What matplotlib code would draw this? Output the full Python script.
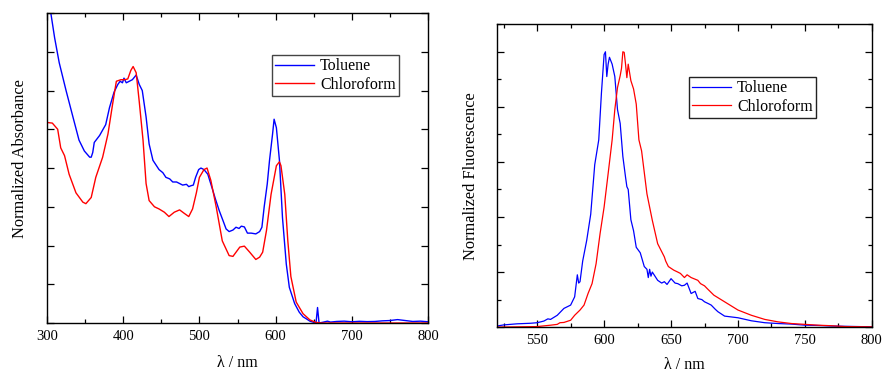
import matplotlib
matplotlib.use("Agg")
import matplotlib.pyplot as plt
from matplotlib.ticker import MultipleLocator, NullFormatter

plt.rcParams['font.family'] = ['Liberation Serif', 'DejaVu Serif']

# ---- Absorbance spectra ----
abs_tol_wl = [300, 305, 310, 316, 325, 334, 342, 349, 356, 358, 360, 362, 369, 377, 382, 388,
              393, 396, 399, 401, 404, 408, 412, 417, 421, 425, 430, 434, 439, 443, 447, 452,
              456, 461, 465, 470, 474, 478, 483, 486, 489, 492, 495, 499, 502, 506, 511, 517,
              521, 526, 531, 535, 539, 544, 548, 552, 555, 559, 563, 568, 574, 579, 582, 585,
              589, 592, 596, 598, 601, 605, 609, 614, 618, 625, 631, 636, 640, 645, 649, 653,
              655, 657, 662, 668, 672, 680, 690, 700, 710, 720, 730, 740, 750, 760, 770, 780,
              790, 800]
abs_tol = [2.10, 2.00, 1.84, 1.68, 1.50, 1.33, 1.18, 1.11, 1.07, 1.07, 1.10, 1.165, 1.21, 1.28, 1.39, 1.49,
           1.54, 1.56, 1.55, 1.58, 1.55, 1.56, 1.57, 1.60, 1.54, 1.50, 1.33, 1.155, 1.05, 1.02, 0.99, 0.97,
           0.94, 0.93, 0.91, 0.91, 0.90, 0.89, 0.895, 0.88, 0.886, 0.89, 0.94, 0.99, 1.00, 0.99, 0.96, 0.865,
           0.80, 0.725, 0.66, 0.607, 0.59, 0.60, 0.618, 0.61, 0.625, 0.62, 0.58, 0.58, 0.575, 0.59, 0.618, 0.75,
           0.897, 1.05, 1.22, 1.315, 1.26, 1.05, 0.68, 0.38, 0.23, 0.125, 0.07, 0.04, 0.028, 0.012, 0.006, 0.0,
           0.10, 0.0, 0.005, 0.012, 0.006, 0.010, 0.012, 0.008, 0.011, 0.009, 0.010, 0.014, 0.016, 0.022, 0.016, 0.010,
           0.012, 0.008]

abs_chl_wl = [300, 307, 314, 318, 323, 329, 338, 347, 351, 358, 364, 373, 380, 386, 391, 397,
              402, 406, 410, 413, 417, 421, 426, 430, 434, 441, 447, 454, 460, 467, 474, 480,
              486, 491, 496, 500, 506, 510, 515, 522, 530, 539, 544, 553, 559, 566, 574, 579,
              583, 588, 594, 601, 605, 607, 612, 616, 620, 627, 636, 645, 653, 660, 700, 750,
              800]
abs_chl = [1.294, 1.29, 1.25, 1.13, 1.08, 0.96, 0.84, 0.78, 0.77, 0.81, 0.94, 1.07, 1.22, 1.41, 1.56, 1.57,
           1.57, 1.575, 1.63, 1.655, 1.615, 1.43, 1.18, 0.90, 0.79, 0.75, 0.736, 0.715, 0.687, 0.715, 0.73, 0.708,
           0.687, 0.736, 0.84, 0.94, 0.99, 1.0, 0.92, 0.75, 0.53, 0.435, 0.43, 0.49, 0.496, 0.457, 0.41, 0.425,
           0.457, 0.597, 0.83, 1.015, 1.04, 1.015, 0.83, 0.53, 0.30, 0.135, 0.06, 0.02, 0.004, 0.0, 0.0, 0.0,
           0.0]

# ---- Fluorescence spectra ----
fl_tol_wl = [520, 525, 530, 535, 540, 545, 550, 555, 558, 560, 565, 570, 575, 578, 580, 581,
             582, 584, 587, 590, 593, 596, 598, 600, 601, 602, 603, 604, 606, 608, 610, 612,
             614, 616, 617, 618, 620, 622, 624, 627, 630, 632, 633, 634, 635, 636, 640, 643,
             645, 647, 650, 653, 655, 658, 660, 662, 665, 668, 670, 673, 675, 678, 680, 683,
             685, 690, 700, 710, 720, 730, 740, 750, 760, 770, 780, 790, 800]
fl_tol = [0.004, 0.008, 0.010, 0.012, 0.013, 0.014, 0.016, 0.022, 0.030, 0.028, 0.043, 0.068, 0.080, 0.11, 0.19, 0.16,
          0.165, 0.24, 0.315, 0.41, 0.59, 0.68, 0.85, 0.99, 1.0, 0.91, 0.955, 0.98, 0.955, 0.91, 0.79, 0.74,
          0.62, 0.545, 0.51, 0.50, 0.39, 0.35, 0.29, 0.27, 0.22, 0.21, 0.18, 0.21, 0.185, 0.20, 0.17, 0.16,
          0.165, 0.155, 0.176, 0.16, 0.158, 0.15, 0.152, 0.16, 0.122, 0.13, 0.104, 0.10, 0.092, 0.085, 0.08, 0.065,
          0.056, 0.040, 0.034, 0.023, 0.016, 0.013, 0.011, 0.007, 0.006, 0.004, 0.003, 0.002, 0.001]

fl_chl_wl = [520, 535, 550, 560, 565, 567, 570, 575, 578, 582, 585, 588, 591, 594, 597, 600,
             603, 606, 608, 610, 612, 613, 614, 615, 616, 617, 618, 620, 622, 624, 626, 628,
             632, 636, 640, 645, 646, 648, 652, 655, 657, 660, 662, 665, 667, 670, 672, 675,
             677, 682, 690, 700, 710, 720, 730, 740, 750, 760, 770, 780, 800]
fl_chl = [0.0, 0.001, 0.002, 0.007, 0.010, 0.016, 0.017, 0.025, 0.043, 0.062, 0.080, 0.122, 0.158, 0.23, 0.34, 0.436,
          0.557, 0.68, 0.79, 0.87, 0.913, 0.94, 1.0, 0.998, 0.955, 0.906, 0.955, 0.895, 0.865, 0.81, 0.68, 0.64,
          0.484, 0.388, 0.303, 0.255, 0.24, 0.22, 0.207, 0.20, 0.195, 0.18, 0.19, 0.18, 0.176, 0.17, 0.158, 0.15,
          0.14, 0.116, 0.092, 0.062, 0.043, 0.028, 0.019, 0.013, 0.010, 0.007, 0.005, 0.002, 0.001]

solvents = ["Toluene", "Chloroform"]
colors = ["#0000ff", "#ff0000"]

fig = plt.figure(figsize=(8.82, 3.73), dpi=100)
ax1 = fig.add_axes([0.0533, 0.134, 0.432, 0.831])
ax2 = fig.add_axes([0.5635, 0.123, 0.425, 0.812])

ax1.plot(abs_tol_wl, abs_tol, color=colors[0], lw=1.0, label=solvents[0])
ax1.plot(abs_chl_wl, abs_chl, color=colors[1], lw=1.0, label=solvents[1])
ax1.set_xlim(300, 800)
ax1.set_ylim(0, 2.0)
ax1.xaxis.set_major_locator(MultipleLocator(100))
ax1.xaxis.set_minor_locator(MultipleLocator(50))
ax1.yaxis.set_major_locator(MultipleLocator(0.25))
ax1.yaxis.set_major_formatter(NullFormatter())
ax1.set_xlabel("λ / nm", fontsize=11.5, labelpad=9)
ax1.set_ylabel("Normalized Absorbance", fontsize=11.8, labelpad=9)
ax1.yaxis.label.set_y(0.53)
leg1 = ax1.legend(loc="upper right", bbox_to_anchor=(0.924, 0.864), borderaxespad=0,
                  fontsize=11.5, fancybox=False, edgecolor="#444444", framealpha=1,
                  handlelength=2.4, borderpad=0.2, labelspacing=0.15, handletextpad=0.4)
leg1.get_frame().set_linewidth(1.0)

ax2.plot(fl_tol_wl, fl_tol, color=colors[0], lw=0.9, label=solvents[0])
ax2.plot(fl_chl_wl, fl_chl, color=colors[1], lw=0.9, label=solvents[1])
ax2.set_xlim(520, 800)
ax2.set_ylim(0, 1.1)
ax2.xaxis.set_major_locator(MultipleLocator(50))
ax2.xaxis.set_minor_locator(MultipleLocator(25))
ax2.yaxis.set_major_locator(MultipleLocator(0.2))
ax2.yaxis.set_minor_locator(MultipleLocator(0.1))
ax2.yaxis.set_major_formatter(NullFormatter())
ax2.set_xlabel("λ / nm", fontsize=11.5, labelpad=7)
ax2.set_ylabel("Normalized Fluorescence", fontsize=11.8, labelpad=8)
leg2 = ax2.legend(loc="upper right", bbox_to_anchor=(0.851, 0.825), borderaxespad=0,
                  fontsize=11.5, fancybox=False, edgecolor="#222222", framealpha=1,
                  handlelength=2.4, borderpad=0.2, labelspacing=0.15, handletextpad=0.4)
leg2.get_frame().set_linewidth(1.0)

for ax in (ax1, ax2):
    ax.tick_params(which="both", direction="in", top=True, right=True, labelsize=10.5)
    ax.tick_params(which="major", length=5, width=0.9, pad=5)
    ax.tick_params(which="minor", length=3, width=0.9)
    for s in ax.spines.values():
        s.set_linewidth(1.0)

fig.savefig("out.png", dpi=100)
